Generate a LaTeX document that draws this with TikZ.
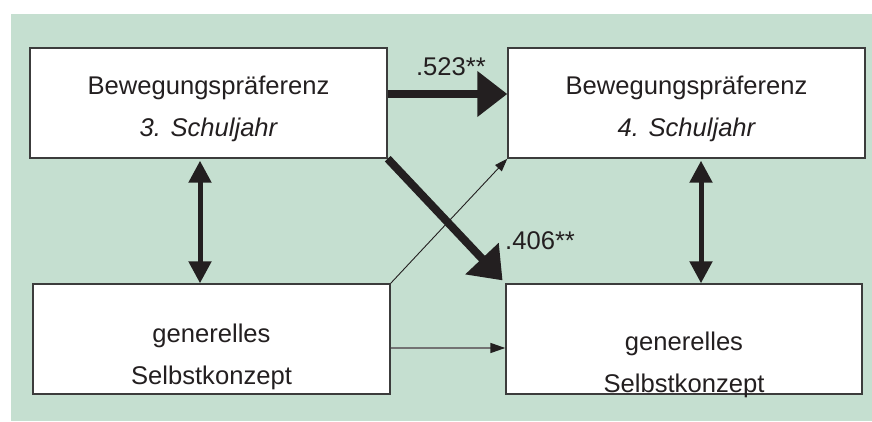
\documentclass[tikz,border=0pt]{standalone}
\usepackage{fontspec}
\setmainfont{Liberation Sans}
\usetikzlibrary{arrows.meta}
\definecolor{panel}{RGB}{197,223,208}
\definecolor{ink}{RGB}{35,31,32}
\definecolor{frame}{RGB}{60,60,60}
\begin{document}
\begin{tikzpicture}[x=1pt,y=1pt,
  varbox/.style={draw=frame,line width=1.4pt,fill=white,inner sep=0pt,
    minimum width=357pt,minimum height=110pt},
  lbl/.style={text=ink,font=\fontsize{25.6}{30}\selectfont,inner sep=0pt,anchor=base},
  strong/.style={draw=ink,line width=8pt,-{Triangle[length=30pt,width=44pt]}},
  weak/.style={draw=ink,line width=0.9pt,-{Triangle[length=13pt,width=9pt]}},
  weakgray/.style={draw=black!55,line width=1.6pt,
    -{Triangle[length=15pt,width=10pt,color=ink]}},
  corr/.style={draw=ink,line width=5pt,{Triangle[length=22pt,width=22pt]}-{Triangle[length=22pt,width=22pt]}}]
\useasboundingbox (0,0) rectangle (872,421);
\fill[panel] (11,0) rectangle (872,407);

% the four variables
\node[varbox] (TL) at (208.5,318) {};
\node[varbox] (TR) at (686.5,318) {};
\node[varbox,minimum width=357pt] (BL) at (211.5,82) {};
\node[varbox,minimum width=356pt] (BR) at (684,82) {};

% box texts
\node[lbl] (tl1) at (208.5,326) {Bewegungspräferenz};
\node[lbl] (tl2) at (208.5,284) {\itshape 3. Schuljahr};
\node[lbl] (tr1) at (686.5,326) {Bewegungspräferenz};
\node[lbl] (tr2) at (686.5,284) {\itshape 4. Schuljahr};
\node[lbl] (bl1) at (211.5,79) {generelles};
\node[lbl] (bl2) at (211.5,37) {Selbstkonzept};
\node[lbl] (br1) at (684,71) {generelles};
\node[lbl] (br2) at (684,29) {Selbstkonzept};

% paths
\draw[strong] ([yshift=9pt]TL.east) -- ([yshift=9pt]TR.west);
\draw[strong,shorten >=4pt] (TL.south east) -- (BR.north west);
\draw[weak] (BL.north east) -- (TR.south west);
\draw[weakgray] ([yshift=-9pt]BL.east) -- ([yshift=-9pt]BR.west);
\draw[corr,shorten <=2pt] ([xshift=-8.5pt]TL.south) -- ([xshift=-8.5pt]TL.south |- BL.north);
\draw[corr,shorten <=2pt] ([xshift=14.5pt]TR.south) -- ([xshift=14.5pt]TR.south |- BR.north);

% path coefficients
\node[lbl] (c1) at (451,345) {.523**};
\node[lbl,anchor=base west] (c2) at (505,172) {.406**};
\end{tikzpicture}
\end{document}
